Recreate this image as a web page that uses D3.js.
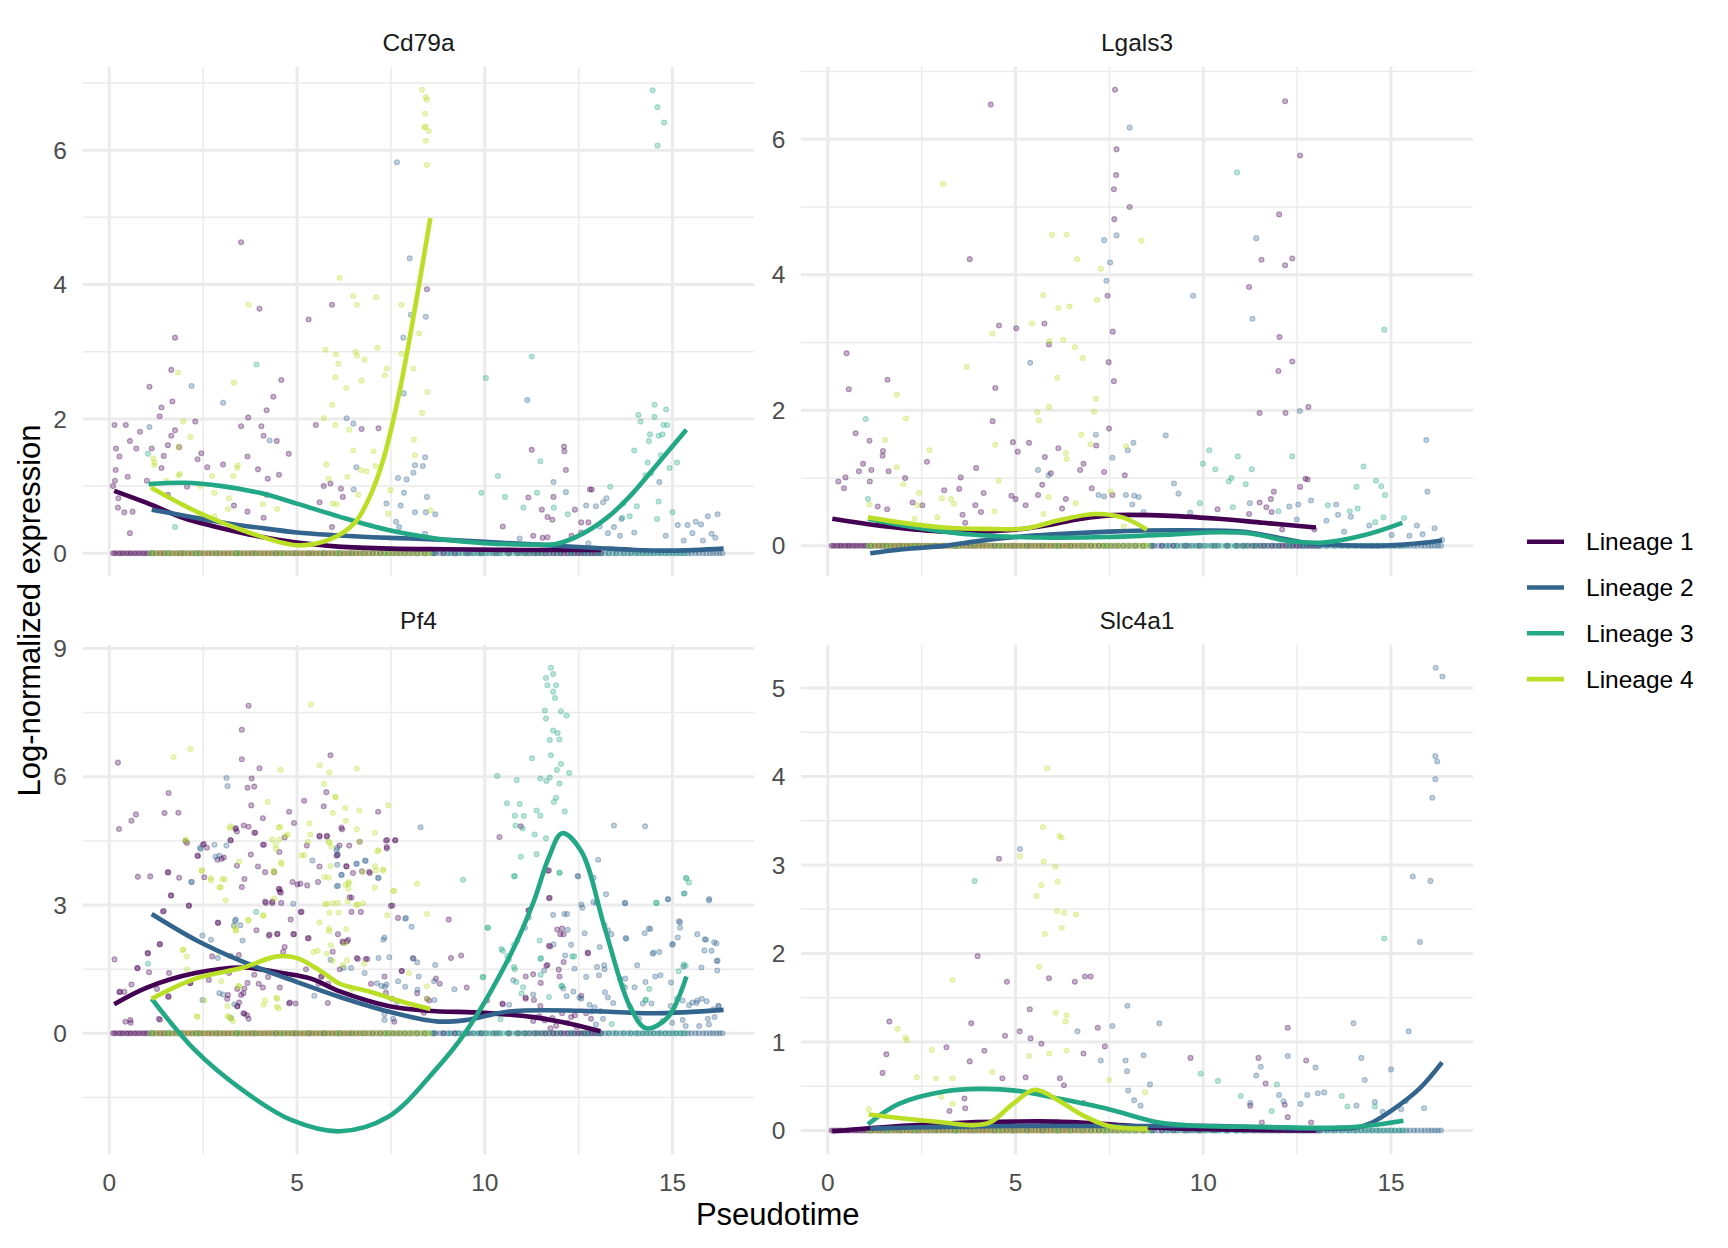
<!DOCTYPE html>
<html lang="en">
<head>
<meta charset="UTF-8">
<title>Expression along pseudotime</title>
<script src="https://cdn.jsdelivr.net/npm/d3@7"></script>
<style>
  body { margin: 0; background: #fff; }
  text { font-family: "Liberation Sans", Arial, sans-serif; }
</style>
</head>
<body>
<div id="chart"></div>
<script>
// ---- data ----
const genes = ["Cd79a", "Lgals3", "Pf4", "Slc4a1"];
const lineages = ["Lineage 1", "Lineage 2", "Lineage 3", "Lineage 4"];
const xTicks = [0, 5, 10, 15];
const cd79aTicks = [0, 2, 4, 6];
const lgals3Ticks = [0, 2, 4, 6];
const pf4Ticks = [0, 3, 6, 9];
const slc4a1Ticks = [0, 1, 2, 3, 4, 5];

// cells with zero counts, pseudotime per lineage (the dense band at y = 0)
const zeroL1 = [0.1,0.16,0.24,0.31,0.37,0.45,0.52,0.58,0.66,0.73,0.8,0.88,0.95,1.02,1.1,1.17,1.25,1.33,1.4,1.47,1.56,1.63,1.71,1.79,1.86,1.94,2.02,2.1,2.18,2.25,2.33,2.41,2.48,2.57,2.65,2.72,2.8,2.88,2.96,3.04,3.11,3.19,3.27,3.35,3.42,3.5,3.58,3.66,3.74,3.81,3.89,3.97,4.05,4.13,4.2,4.28,4.36,4.44,4.52,4.59,4.67,4.75,4.83,4.91,4.98,5.06,5.14,5.22,5.3,5.37,5.45,5.53,5.61,5.69,5.76,5.84,5.92,6.0,6.08,6.16,6.24,6.32,6.4,6.48,6.57,6.65,6.74,6.83,6.92,7.02,7.12,7.22,7.33,7.45,7.58,7.72,7.87,8.03,8.2,8.4,8.65,8.9,9.2,9.55,9.9,10.3,10.65,10.9,11.05,11.18,11.3,11.42,11.52,11.62,11.72,11.82,11.92,12.02,12.11,12.2,12.3,12.39,12.48,12.57,12.66,12.75,12.84,12.93,13.02,13.1];
const zeroL2 = [1.15,1.52,1.93,2.38,2.87,3.41,3.88,4.43,4.91,5.32,5.71,6.12,6.46,6.77,7.01,7.22,7.38,7.53,7.66,7.77,7.89,7.99,8.11,8.2,8.31,8.41,8.5,8.61,8.7,8.81,8.9,9.01,9.1,9.21,9.3,9.41,9.5,9.61,9.7,9.81,9.92,10.05,10.21,10.4,10.62,10.86,11.1,11.36,11.6,11.84,12.04,12.22,12.37,12.52,12.64,12.77,12.88,12.99,13.1,13.21,13.3,13.41,13.5,13.61,13.7,13.81,13.9,14.01,14.1,14.21,14.3,14.41,14.5,14.61,14.7,14.81,14.9,15.01,15.1,15.21,15.3,15.41,15.5,15.61,15.7,15.81,15.9,16.0,16.08,16.17,16.25,16.33];
const zeroL3 = [1.1,1.6,2.3,3.4,4.6,6.1,7.4,8.6,9.05,9.3,9.5,9.7,9.85,10.0,10.12,10.24,10.36,10.48,10.6,10.72,10.84,10.96,11.08,11.2,11.35,11.5,11.7,11.95,12.3,12.7,13.05,13.3,13.5,13.7,13.88,14.05,14.2,14.35,14.5,14.65,14.8,14.95,15.1,15.22,15.34];
const zeroL4 = [1.1,1.2,1.3,1.41,1.52,1.62,1.73,1.83,1.94,2.05,2.15,2.26,2.37,2.47,2.58,2.69,2.79,2.9,3.0,3.11,3.22,3.32,3.43,3.54,3.64,3.75,3.86,3.96,4.07,4.18,4.28,4.39,4.5,4.6,4.71,4.82,4.92,5.03,5.14,5.24,5.35,5.46,5.56,5.67,5.78,5.88,5.99,6.1,6.2,6.31,6.42,6.52,6.63,6.74,6.84,6.95,7.06,7.16,7.27,7.38,7.48,7.59,7.7,7.8,7.91,8.02,8.12,8.23,8.34,8.44,8.52];

// non-zero cells [pseudotime, expression]
const cd79aL1 = [[3.51,4.63],[4.0,3.64],[5.93,3.70],[5.31,3.48],[1.75,3.21],[1.65,2.73],[4.58,2.58],[1.68,2.26],[4.37,2.33],[4.19,2.13],[3.7,2.02],[1.34,2.04],[1.07,2.48],[2.29,1.96],[3.51,1.89],[4.05,1.89],[5.5,1.91],[7.17,1.86],[6.72,1.85],[0.14,1.91],[0.44,1.91],[0.82,1.81],[0.55,1.67],[0.18,1.56],[0.27,1.44],[0.17,1.24],[0.15,1.08],[0.1,1.0],[0.49,1.14],[0.72,1.56],[1.13,1.56],[1.45,1.45],[1.56,1.61],[1.65,1.75],[1.86,1.58],[1.75,1.83],[1.39,2.17],[2.35,1.40],[2.45,1.49],[4.11,1.75],[4.46,1.67],[4.78,1.48],[4.52,1.17],[4.22,1.11],[3.96,1.25],[3.68,1.44],[3.03,1.32],[2.61,1.28],[2.07,0.99],[1.56,0.87],[1.39,1.27],[1.0,1.08],[0.24,0.82],[0.23,0.68],[0.4,0.61],[0.62,0.62],[0.55,0.30],[3.32,0.71],[3.68,0.62],[4.11,0.53],[4.19,0.87],[5.71,1.0],[5.89,1.04],[6.17,0.96],[6.22,0.84],[5.6,0.76],[5.93,0.39],[8.46,3.93],[11.25,1.54],[12.11,1.59],[12.12,1.52],[12.16,1.24],[11.16,0.83],[11.83,0.84],[11.52,0.65],[11.67,0.54],[11.8,0.5],[10.48,0.40],[12.4,0.65],[12.8,0.95],[12.85,0.95],[12.57,0.46],[12.31,0.26],[11.29,0.26],[11.54,0.23],[11.67,0.24],[12.57,0.31],[12.76,0.46]];
const cd79aL2 = [[7.66,5.82],[8.0,4.39],[8.03,3.55],[8.43,3.52],[7.83,3.21],[2.19,2.49],[3.03,2.24],[4.27,1.68],[6.32,2.01],[6.5,1.93],[6.58,1.28],[6.51,0.95],[7.84,2.38],[8.1,1.2],[8.35,1.3],[8.14,1.31],[8.41,1.43],[7.69,1.12],[7.92,1.1],[7.85,0.9],[7.38,0.74],[7.76,0.71],[8.14,0.61],[8.46,0.84],[8.43,0.61],[8.68,0.58],[7.64,0.47],[7.72,0.39],[8.41,0.29],[1.07,1.88],[11.13,2.28],[11.83,1.06],[12.16,0.91],[12.7,0.71],[12.96,0.70],[13.15,0.76],[13.24,0.82],[13.64,0.51],[13.06,0.4],[13.6,0.26],[13.98,0.31],[14.65,1.06],[14.82,0.26],[15.14,0.42],[15.4,0.42],[15.62,0.47],[15.76,0.43],[15.94,0.55],[16.2,0.58],[16.04,0.29],[16.14,0.23],[15.81,0.19],[15.53,0.3],[15.3,0.19],[10.93,0.22],[12.76,0.15],[13.28,0.3],[13.44,0.39]];
const cd79aL3 = [[14.47,6.89],[14.6,6.64],[14.78,6.41],[14.6,6.07],[3.92,2.81],[1.03,1.48],[1.75,0.39],[11.25,2.93],[10.03,2.61],[10.35,1.15],[9.91,0.9],[10.54,0.84],[11.03,0.68],[11.39,0.9],[11.48,1.37],[11.84,0.68],[12.21,0.58],[13.34,0.99],[13.69,0.74],[13.86,0.55],[13.98,1.53],[14.09,2.06],[14.15,1.96],[14.52,2.21],[14.52,2.03],[14.83,2.14],[14.4,1.77],[14.37,1.67],[14.63,1.75],[14.73,1.77],[14.76,1.91],[14.86,1.91],[14.69,1.46],[14.34,1.35],[14.43,1.19],[14.28,1.16],[14.92,1.27],[15.12,1.35],[15.0,0.61],[14.59,0.51],[14.63,0.77],[14.05,0.7],[13.66,0.53]];
const cd79aL4 = [[8.33,6.9],[8.43,6.79],[8.46,6.75],[8.41,6.54],[8.43,6.35],[8.51,6.28],[8.39,6.34],[8.43,6.14],[8.46,5.78],[6.13,4.10],[6.5,3.83],[6.59,3.70],[7.11,3.81],[3.71,3.70],[7.78,3.70],[5.76,3.03],[6.04,2.96],[6.56,3.0],[6.6,2.94],[6.1,2.82],[6.8,2.88],[7.14,3.06],[7.39,2.75],[7.34,2.65],[7.78,2.97],[8.1,2.75],[6.02,2.62],[6.31,2.46],[6.72,2.57],[1.83,2.69],[3.32,2.54],[5.94,2.21],[5.71,2.01],[6.02,1.91],[6.39,1.84],[1.97,1.96],[2.16,1.73],[1.84,1.58],[8.33,2.09],[8.47,2.40],[8.25,3.27],[8.11,1.69],[8.14,1.46],[7.04,1.52],[7.09,1.3],[6.85,1.22],[6.7,1.24],[6.34,1.14],[6.5,1.53],[5.78,1.32],[5.84,1.11],[3.42,1.31],[3.4,1.27],[3.3,1.15],[2.74,1.15],[1.88,1.18],[1.85,1.16],[1.2,1.31],[1.17,1.41],[1.2,1.35],[1.52,1.08],[2.42,1.0],[2.8,0.9],[3.19,0.82],[3.16,0.66],[2.8,0.55],[2.54,0.5],[2.38,0.54],[4.09,0.73],[4.47,0.66],[6.63,0.87],[5.95,0.74],[6.05,0.73],[7.43,0.59],[7.49,0.94],[8.55,0.64]];

const lgals3L1 = [[4.34,6.51],[7.65,6.73],[12.18,6.56],[7.69,5.85],[12.58,5.76],[7.68,5.47],[7.62,5.26],[8.04,5.0],[7.63,4.82],[12.02,4.89],[3.78,4.23],[11.55,4.22],[12.37,4.24],[12.18,4.14],[7.45,3.69],[11.22,3.82],[5.02,3.21],[4.56,3.25],[5.77,3.28],[7.59,3.16],[5.89,2.97],[12.03,3.08],[0.5,2.84],[12.37,2.72],[7.48,2.71],[12.0,2.58],[1.59,2.45],[0.56,2.31],[4.46,2.33],[7.62,2.43],[11.5,1.96],[12.19,1.96],[12.8,2.05],[4.39,1.84],[7.49,1.73],[0.74,1.66],[1.11,1.55],[4.93,1.53],[5.36,1.52],[2.64,1.24],[5.06,1.39],[6.14,1.44],[5.78,1.31],[1.47,1.4],[1.46,1.33],[0.94,1.21],[1.16,1.12],[0.83,1.1],[0.28,0.95],[0.47,1.01],[0.43,0.85],[1.12,0.95],[1.62,1.1],[2.06,1.0],[3.95,1.15],[3.54,1.01],[3.5,0.84],[3.1,0.82],[4.15,0.78],[4.89,0.74],[5.0,0.69],[5.27,0.6],[5.6,0.75],[5.71,0.9],[5.94,1.07],[6.34,0.69],[6.24,0.55],[6.72,1.12],[6.81,1.21],[7.03,0.85],[7.15,1.48],[7.36,1.09],[7.58,0.75],[7.91,1.04],[2.26,0.64],[2.52,0.6],[1.33,0.58],[1.58,0.54],[3.59,0.46],[3.66,0.34],[3.93,0.6],[4.08,0.5],[10.38,0.54],[11.22,0.47],[11.5,0.64],[11.68,0.57],[11.82,0.5],[11.8,0.69],[11.88,0.8],[12.58,0.87],[12.72,0.99],[12.78,0.98],[12.96,0.24],[12.1,0.24]];
const lgals3L2 = [[8.04,6.17],[7.36,4.51],[7.69,4.58],[7.52,4.18],[7.42,3.91],[11.41,4.54],[9.73,3.69],[11.31,3.35],[5.39,2.7],[12.57,1.99],[9.0,1.63],[7.14,1.64],[7.58,1.3],[8.14,1.52],[7.99,1.41],[5.6,1.12],[5.88,1.04],[15.94,1.56],[15.97,0.8],[9.22,0.92],[9.34,0.77],[7.21,0.75],[7.36,0.73],[7.94,0.75],[8.16,0.74],[8.28,0.72],[8.11,0.61],[8.41,0.5],[9.65,0.49],[11.24,0.63],[12.29,0.58],[12.53,0.61],[12.87,0.67],[13.54,0.61],[13.59,0.46],[13.93,0.43],[12.49,0.39],[13.28,0.37],[13.75,0.21],[14.42,0.3],[15.69,0.3],[16.16,0.26],[15.02,0.16],[15.49,0.15],[15.84,0.17],[16.36,0.09]];
const lgals3L3 = [[1.01,1.87],[10.9,5.51],[14.82,3.19],[10.16,1.41],[9.99,1.21],[10.32,1.13],[10.92,1.32],[11.29,1.13],[12.37,1.32],[14.27,1.17],[10.75,1.0],[10.68,0.95],[11.13,0.91],[14.08,0.87],[14.6,0.96],[14.74,0.88],[14.84,0.75],[13.32,0.6],[14.11,0.55],[9.91,0.63],[10.79,0.57],[12.0,0.51],[13.9,0.51],[14.58,0.35],[14.8,0.42],[15.35,0.41],[1.07,0.69]];
const lgals3L4 = [[3.07,5.34],[5.97,4.59],[6.36,4.59],[8.35,4.5],[6.64,4.23],[7.27,4.09],[5.74,3.7],[6.14,3.51],[6.44,3.53],[7.17,3.63],[4.38,3.13],[5.44,3.28],[6.27,3.04],[5.9,3.02],[6.58,2.93],[6.79,2.77],[3.7,2.64],[6.11,2.48],[1.84,2.23],[7.14,2.17],[5.89,2.05],[7.09,1.98],[5.58,1.97],[2.08,1.88],[5.62,1.85],[6.75,1.64],[7.0,1.5],[1.52,1.56],[4.46,1.49],[2.71,1.41],[6.34,1.37],[6.36,1.28],[7.94,1.47],[1.84,1.16],[4.55,0.96],[2.01,0.91],[2.43,0.78],[1.11,0.61],[2.4,0.6],[3.28,0.69],[3.36,0.62],[3.04,0.7],[5.88,0.72],[6.6,0.63],[7.54,0.8],[2.92,0.42],[2.31,0.4],[4.44,0.51],[5.74,0.47],[7.88,0.29]];

const pf4L1 = [[0.23,6.33],[0.26,4.78],[3.71,7.66],[3.53,7.1],[3.53,6.41],[4.0,6.2],[3.79,5.96],[3.68,5.74],[3.86,5.77],[1.58,5.62],[1.47,5.15],[1.84,5.16],[0.71,5.12],[0.59,4.97],[3.78,5.33],[4.09,5.03],[3.58,4.86],[3.37,4.8],[3.86,4.69],[3.23,4.52],[4.09,4.41],[2.99,4.08],[2.35,4.16],[2.03,4.49],[2.52,4.43],[4.79,5.18],[4.92,4.92],[5.19,5.44],[5.78,5.64],[5.89,6.5],[5.71,5.31],[5.6,4.62],[5.8,4.62],[6.18,4.81],[6.05,4.15],[6.31,3.91],[6.67,4.48],[7.16,5.18],[7.4,4.52],[7.62,4.52],[7.39,4.36],[7.54,2.99],[6.62,1.74],[6.83,1.74],[6.4,3.18],[6.7,2.84],[6.92,3.78],[6.36,2.19],[6.21,2.15],[5.31,2.23],[4.92,2.32],[4.47,2.32],[4.25,2.28],[4.15,3.08],[4.34,3.08],[4.54,3.31],[4.51,3.38],[4.15,3.77],[4.88,3.54],[5.09,3.5],[5.27,3.46],[4.67,2.02],[4.83,2.66],[5.12,2.84],[2.9,2.58],[2.74,1.8],[2.12,2.99],[1.65,3.22],[1.56,3.77],[1.86,3.64],[0.76,3.66],[1.09,3.67],[1.45,2.86],[1.35,2.09],[1.03,1.87],[0.75,1.52],[1.59,1.41],[0.14,1.73],[0.27,0.97],[0.57,0.25],[1.35,0.32],[1.58,0.85],[2.16,1.17],[3.19,1.41],[3.41,1.04],[3.51,0.9],[3.46,0.72],[3.41,0.64],[3.57,0.47],[3.71,0.34],[4.09,1.07],[4.54,1.07],[4.81,0.72],[5.24,1.5],[5.57,1.16],[5.66,1.34],[6.14,1.5],[7.33,1.33],[7.53,0.81],[7.79,1.46],[8.2,0.94],[8.46,0.81],[8.7,1.28],[8.8,1.16],[9.04,2.66],[9.1,1.76],[9.37,1.82],[9.52,1.07],[10.06,0.77],[10.39,4.59],[10.48,0.68],[10.96,4.84],[11.16,2.88],[11.71,3.81],[11.71,3.16],[12.06,2.45],[12.1,2.32],[11.74,2.03],[12.1,1.67],[11.67,1.6],[11.09,1.33],[11.09,0.81],[11.31,0.78],[11.48,0.64],[11.8,0.36],[12.06,0.47],[12.4,0.42],[12.74,1.89],[12.7,0.47],[12.83,0.34],[11.29,0.29],
  [6.2,4.77],[3.36,4.78],[3.4,4.72],[3.71,4.83],[3.89,4.69],[4.67,4.58],[7.37,4.51],[7.61,4.51],[2.07,4.45],[2.49,4.41],[2.6,4.34],[3.23,4.51],[4.12,4.41],[4.53,4.24],[5.26,4.39],[5.6,4.6],[5.79,4.6],[6.13,4.39],[6.39,4.39],[6.08,4.17],[7.39,4.32],[3.77,4.18],[3.05,4.11],[2.88,4.06],[2.36,4.14],[2.53,3.65],[1.57,3.76],[1.64,3.23],[2.12,2.98],[1.43,2.85],[3.4,3.92],[3.96,3.9],[3.6,3.61],[3.53,3.42],[4.39,3.77],[4.54,3.37],[4.57,3.29],[4.17,3.05],[4.34,3.05],[4.58,3.05],[5.01,3.48],[5.56,3.54],[5.6,3.9],[6.32,3.9],[6.49,3.75],[6.73,3.79],[6.94,3.75],[6.45,3.17],[6.45,2.84],[5.1,2.84],[7.5,2.98],[7.69,2.7],[2.89,2.59],[3.92,2.41],[4.27,2.31],[4.48,2.33],[4.9,2.32],[5.29,2.22],[6.09,2.32],[6.33,2.15],[6.23,2.12],[1.34,2.08],[1.02,1.88],[1.06,1.43],[0.75,1.53],[3.23,1.81],[3.45,1.83],[4.63,1.91],[5.95,1.91],[6.59,1.76],[6.87,1.74],[8.1,1.75],[2.65,1.25],[2.15,1.18],[1.57,0.87],[1.27,1.04],[0.59,1.14],[0.28,0.97],[0.4,0.97],[0.43,0.27],[0.56,0.31],[1.32,0.34],[3.14,0.81],[3.16,0.9],[3.57,0.94],[3.6,1.05],[3.68,1.18],[3.98,1.16],[3.41,0.63],[3.6,0.46],[3.67,0.42],[4.79,0.7],[4.96,0.7],[3.86,1.37],[4.23,1.32],[5.83,1.16],[5.64,1.32],[5.82,0.71],[6.97,1.16],[7.79,1.46],[8.52,0.77],[8.38,0.48],[7.59,0.27],[7.37,0.95],
  [11.67,3.8],[11.73,3.17],[11.18,2.87],[11.93,2.43],[12.01,2.32],[11.71,2.05],[12.75,1.87],[11.29,1.38],[11.64,1.58],[11.97,1.49],[11.99,1.33],[11.49,1.18],[11.09,0.84],[10.47,0.7],[12.57,0.88],[11.6,0.3],[11.9,0.18],[12.2,0.25],[12.45,0.15],[11.75,0.12],[12.3,0.38],[11.45,0.4]];
const pf4L2 = [[3.12,5.97],[3.15,5.78],[2.42,4.34],[2.8,4.41],[3.12,4.39],[2.93,4.15],[6.07,4.34],[6.08,4.19],[6.06,3.44],[6.18,3.7],[6.58,3.96],[6.83,4.03],[7.17,3.63],[4.9,3.03],[3.37,2.66],[3.55,2.17],[3.32,2.52],[2.71,2.19],[2.89,1.76],[2.48,0.78],[3.03,0.91],[3.33,0.68],[2.2,3.54],[5.41,4.04],[6.24,1.53],[5.89,1.72],[7.3,2.19],[7.88,2.68],[8.05,2.49],[8.08,1.76],[8.29,4.82],[8.24,1.33],[8.66,0.78],[7.34,1.09],[7.13,1.17],[7.66,0.74],[7.88,1.09],[7.33,0.31],[9.19,1.03],[11.29,0.91],[12.12,2.79],[12.47,3.68],[12.57,3.01],[12.89,3.07],[13.02,4.06],[13.19,2.53],[13.28,2.41],[13.06,2.02],[13.19,1.5],[13.44,4.86],[13.73,3.05],[13.75,2.23],[14.27,4.84],[14.37,2.45],[14.5,1.89],[14.54,1.33],[14.88,3.14],[15.01,2.09],[15.17,2.62],[15.2,2.47],[15.66,2.32],[15.89,2.19],[16.04,1.93],[16.17,2.1],[15.98,3.14],[16.18,1.69],[16.19,1.47],[15.66,0.77],[15.27,0.31],[13.86,0.64],[12.57,0.81],[12.85,0.51],[13.15,0.34],[13.6,1.28],[13.73,1.07],[14.11,0.34],[14.73,0.29],[14.95,0.64],[15.27,0.77],[15.53,0.72],[15.78,0.81],[15.94,0.34],[16.12,0.38],[16.23,0.64],[12.96,0.21],
  [2.43,4.31],[2.83,4.13],[6.05,4.28],[2.18,3.54],[6.07,3.94],[6.59,3.97],[6.81,4.04],[7.16,3.64],[6.19,3.71],[6.09,3.45],[7.9,2.7],[3.35,2.63],[3.49,2.53],[2.48,2.29],[7.33,2.24],[6.44,1.53],[7.17,1.76],[7.46,1.78],[8.2,1.66],[8.68,1.6],[2.93,0.94],[3.24,0.36],[5.46,0.88],[6.8,1.41],[7.25,1.11],[7.38,1.14],[7.69,1.22],[8.21,1.02],[8.65,1.22],[7.56,0.34],[7.33,0.45],
  [12.49,3.67],[12.9,3.64],[13.23,3.25],[13.74,3.04],[14.88,3.13],[15.32,3.27],[15.97,3.11],[12.6,2.94],[12.97,3.05],[11.82,2.77],[12.19,2.79],[11.17,2.71],[11.07,2.47],[12.21,2.42],[12.3,2.07],[11.83,2.08],[12.14,1.82],[12.66,2.34],[13.37,2.32],[13.77,2.21],[14.26,2.34],[14.41,2.44],[14.65,1.9],[14.47,1.86],[14.99,2.07],[15.14,2.24],[15.2,2.6],[15.86,2.2],[16.11,2.13],[16.2,1.7],[15.77,1.54],[15.85,1.94],[15.29,1.56],[14.06,1.59],[14.68,1.36],[14.96,1.19],[14.28,1.2],[13.99,1.08],[13.74,1.28],[13.2,0.96],[13.28,0.84],[13.42,0.71],[13.04,1.36],[13.18,1.59],[12.99,1.55],[12.7,1.32],[12.39,1.51],[12.36,0.98],[12.09,1.05],[12.18,0.87],[12.52,0.84],[12.79,0.67],[12.92,0.61],[13.08,0.52],[11.58,1.47],[10.76,1.24],[10.65,0.67],[14.21,0.7],[14.44,0.7],[15.12,0.81],[15.64,0.71],[15.91,0.75],[16.09,0.56],[16.22,0.64],[15.44,0.66],[14.99,0.25],[15.35,0.17],[15.71,0.17],[15.97,0.21]];
const pf4L3 = [[11.76,8.55],[11.82,8.4],[11.63,8.31],[11.9,8.14],[11.67,8.14],[11.82,7.99],[11.87,7.84],[11.6,7.55],[12.03,7.53],[12.18,7.43],[11.63,7.36],[11.82,7.08],[11.94,7.02],[11.99,6.87],[11.73,6.86],[11.76,6.5],[11.26,6.43],[12.03,6.3],[11.92,6.16],[12.25,6.09],[11.48,5.96],[11.73,5.98],[11.64,5.9],[11.99,5.84],[10.85,5.92],[10.33,6.02],[11.9,5.51],[11.84,5.41],[10.59,5.38],[10.93,5.36],[11.38,5.21],[11.48,5.09],[12.13,5.19],[10.8,5.09],[11.04,5.08],[10.82,4.86],[11.01,4.79],[11.33,4.65],[11.63,4.56],[11.38,4.19],[10.96,4.13],[10.8,3.68],[11.99,3.76],[10.09,2.47],[10.48,1.93],[10.64,1.72],[10.8,1.5],[10.84,1.2],[9.96,1.31],[11.48,1.74],[12.38,1.8],[12.06,1.11],[14.28,0.77],[15.36,3.64],[15.44,3.53],[15.3,3.27],[14.56,3.05],[15.3,1.61],[9.42,3.59],[1.03,1.63],[3.91,2.84],
  [10.78,3.67],[11.99,3.75],[10.07,2.47],[11.46,2.17],[10.87,2.18],[10.78,2.07],[10.44,1.97],[10.6,1.81],[10.78,1.55],[11.5,1.76],[12.33,1.8],[11.02,1.08],[10.98,0.93],[11.49,1.37],[12.04,1.1],[9.94,1.32],[10.42,0.33],[11.71,0.85],[13.67,1.12],[14.38,1.04],[14.29,0.79],[14.58,3.05],[15.37,3.62],[15.35,1.58],[15.16,1.45],[13.9,0.56],[13.38,0.22]];
const pf4L4 = [[5.37,7.69],[2.16,6.65],[1.71,6.46],[4.56,6.16],[5.6,6.27],[5.86,6.1],[6.59,6.19],[5.72,5.83],[6.02,5.53],[4.22,5.41],[7.43,5.33],[6.66,5.21],[5.95,5.15],[5.33,4.91],[4.55,4.83],[3.23,4.84],[2.03,4.54],[4.7,4.62],[4.52,4.53],[4.43,4.41],[5.86,4.47],[5.19,4.17],[7.17,4.28],[7.08,3.91],[7.3,3.83],[6.75,3.77],[5.89,3.91],[6.38,3.54],[6.29,3.47],[5.73,3.66],[4.58,4.0],[4.38,3.76],[2.47,3.81],[2.7,3.63],[3.01,3.61],[2.97,3.42],[3.1,3.11],[3.38,2.42],[3.7,2.66],[4.09,2.75],[5.8,3.03],[6.08,3.05],[6.62,3.01],[7.58,3.33],[8.46,2.79],[8.2,3.5],[5.85,2.45],[6.27,2.1],[5.55,1.93],[5.95,1.69],[6.79,1.63],[1.97,1.96],[2.06,1.8],[2.07,1.5],[2.35,0.38],[2.54,0.77],[3.19,0.38],[3.24,0.34],[3.29,0.29],[3.15,0.64],[3.44,1.11],[4.15,0.77],[4.47,0.81],[4.51,0.59],[8.46,0.81],[7.98,1.41],
  [6.03,5.52],[6.29,5.27],[6.3,4.97],[6.59,4.77],[3.21,4.8],[4.51,4.81],[4.75,4.65],[7.07,4.69],[2.05,4.49],[4.34,4.53],[4.44,4.31],[5.12,4.16],[5.29,4.48],[5.35,4.65],[5.84,4.48],[5.91,4.37],[6.66,4.48],[7.14,4.26],[3.46,4.02],[2.46,3.8],[2.71,3.58],[2.93,3.41],[3.07,3.6],[4.38,3.81],[4.58,3.96],[4.39,3.15],[5.84,3.64],[7.1,3.81],[7.29,3.81],[6.37,3.5],[6.37,3.39],[7.07,3.41],[7.57,3.33],[6.35,3.09],[6.58,3.01],[6.76,3.04],[5.96,3.04],[5.75,3.02],[6.11,2.82],[5.86,2.82],[5.6,2.59],[7.4,2.76],[4.11,2.76],[3.71,2.63],[3.33,2.49],[3.37,2.4],[5.86,2.39],[6.31,2.44],[5.9,2.06],[1.96,1.95],[2.92,1.9],[5.44,1.9],[5.79,1.86],[6.22,1.59],[6.33,1.71],[2.98,1.22],[2.33,0.4],[3.15,0.4],[3.46,1.1],[4.11,0.67],[4.46,0.62],[4.45,0.83],[6.46,1.02],[8.46,1.1]];

const slc4a1L1 = [[4.56,3.07],[3.99,1.97],[4.77,1.68],[5.89,1.72],[6.58,1.68],[6.85,1.74],[7.0,1.74],[1.64,1.23],[3.82,1.21],[5.38,1.37],[5.11,1.12],[4.72,1.07],[5.4,1.04],[5.69,0.98],[7.19,1.16],[7.38,0.95],[12.25,1.16],[3.16,0.94],[4.17,0.9],[1.56,0.86],[6.81,0.87],[9.66,0.82],[11.47,0.82],[12.74,0.79],[3.78,0.78],[1.46,0.65],[5.27,0.6],[6.18,0.59],[6.29,0.51],[4.65,0.59],[11.66,0.53],[3.64,0.36],[3.66,0.25],[3.24,0.22],[6.81,0.31],[12.25,0.15],[11.56,0.09],[12.17,0.29],[11.25,0.28],[12.87,0.09]];
const slc4a1L2 = [[16.19,5.23],[16.37,5.13],[16.18,4.23],[16.23,4.17],[16.18,3.97],[16.1,3.76],[15.58,2.87],[16.05,2.82],[15.77,2.13],[5.12,3.18],[7.98,1.41],[7.58,1.18],[8.83,1.21],[6.65,1.12],[14.0,1.21],[15.47,1.12],[12.25,0.84],[14.21,0.82],[8.41,0.85],[7.27,0.79],[7.93,0.79],[7.97,0.67],[12.99,0.71],[11.53,0.72],[11.41,0.62],[15.0,0.69],[14.3,0.57],[8.58,0.52],[12.02,0.4],[12.77,0.4],[13.05,0.42],[13.22,0.43],[11.25,0.31],[12.14,0.33],[12.59,0.3],[14.08,0.28],[14.57,0.32],[15.39,0.33],[15.88,0.25],[8.0,0.45],[8.16,0.34],[8.33,0.28],[14.78,0.21],[15.27,0.24]];
const slc4a1L3 = [[3.91,2.82],[14.82,2.17],[9.93,0.64],[10.39,0.56],[11.0,0.39],[11.96,0.52],[11.82,0.22],[13.69,0.39],[13.84,0.27],[14.57,0.27]];
const slc4a1L4 = [[5.84,4.09],[5.73,3.43],[6.17,3.33],[6.23,3.31],[5.75,3.04],[6.06,2.98],[5.12,3.1],[5.69,2.77],[6.12,2.81],[5.56,2.65],[6.11,2.48],[6.3,2.46],[6.61,2.44],[6.23,2.29],[5.78,2.22],[5.63,1.85],[3.32,1.7],[6.07,1.33],[6.36,1.3],[6.33,1.23],[1.86,1.15],[2.07,1.05],[2.1,1.02],[2.77,0.91],[5.9,0.87],[6.36,0.9],[5.36,0.84],[2.37,0.6],[2.88,0.59],[3.32,0.59],[4.38,0.66],[7.49,0.57],[8.45,0.43],[3.32,0.3],[3.02,0.38],[1.09,0.24]];

// fitted smoothers [pseudotime, expression]
const cd79aFit1 = [[0.13,0.93],[1,0.75],[2,0.52],[2.8,0.4],[3.57,0.3],[4.3,0.22],[5,0.16],[6.1,0.1],[7.5,0.07],[9,0.06],[11,0.05],[13.1,0.05]];
const cd79aFit2 = [[1.13,0.65],[2,0.56],[3,0.46],[4,0.38],[5,0.31],[6,0.27],[7,0.24],[8,0.22],[9,0.2],[10,0.17],[11,0.14],[12,0.11],[13,0.08],[14,0.05],[15,0.04],[16.36,0.07]];
const cd79aFit3 = [[1.05,1.03],[2,1.05],[3,1.0],[4,0.9],[5,0.74],[6.1,0.55],[7.4,0.35],[8.7,0.22],[10,0.15],[11.3,0.13],[11.9,0.14],[12.6,0.29],[13.3,0.55],[13.9,0.87],[14.6,1.33],[15.37,1.84]];
const cd79aFit4 = [[1.11,0.98],[2.29,0.63],[3.57,0.34],[5.0,0.12],[5.89,0.21],[6.53,0.45],[6.92,0.82],[7.3,1.4],[7.69,2.3],[8.07,3.42],[8.55,4.99]];
const lgals3Fit1 = [[0.12,0.40],[1.5,0.29],[3.1,0.21],[5.0,0.24],[6.0,0.32],[6.75,0.40],[7.5,0.45],[8.8,0.45],[10.4,0.40],[11.6,0.34],[13.0,0.27]];
const lgals3Fit2 = [[1.13,-0.11],[2,-0.05],[3.1,0.0],[4,0.07],[5,0.13],[6,0.17],[7.5,0.21],[9.2,0.23],[11.0,0.21],[12.0,0.12],[12.8,0.04],[13.7,0.01],[14.7,0.0],[15.6,0.03],[16.36,0.08]];
const lgals3Fit3 = [[1.07,0.40],[2,0.3],[3.1,0.21],[4,0.16],[5.0,0.13],[6,0.12],[7.5,0.13],[9.2,0.17],[10.4,0.20],[11.3,0.18],[12.2,0.08],[13.2,0.05],[14.3,0.16],[15.3,0.34]];
const lgals3Fit4 = [[1.07,0.42],[2,0.34],[3.1,0.27],[4.2,0.25],[5.3,0.26],[6.1,0.37],[7.1,0.47],[7.85,0.42],[8.5,0.24]];
const pf4Fit1 = [[0.13,0.68],[1.0,1.07],[2.29,1.41],[3.57,1.54],[4.6,1.41],[5.37,1.28],[6.14,0.98],[7.43,0.64],[8.46,0.53],[10.0,0.48],[11.3,0.38],[12.3,0.22],[13.08,0.05]];
const pf4Fit2 = [[1.13,2.79],[2.29,2.19],[3.57,1.67],[5.0,1.2],[6.14,0.85],[7.43,0.51],[8.71,0.28],[9.49,0.31],[10.64,0.51],[12.57,0.53],[14.5,0.47],[16.36,0.55]];
const pf4Fit3 = [[1.13,0.81],[2.29,-0.40],[3.57,-1.34],[4.86,-2.03],[6.14,-2.29],[7.43,-1.95],[8.71,-0.83],[9.49,0.03],[10.64,1.76],[11.29,3.05],[11.7,4.1],[12.06,4.68],[12.57,4.26],[13.2,2.45],[13.86,0.64],[14.3,0.12],[14.88,0.38],[15.37,1.33]];
const pf4Fit4 = [[1.13,0.81],[2.29,1.28],[3.57,1.54],[4.47,1.80],[5.0,1.76],[5.63,1.46],[6.14,1.16],[6.92,0.98],[7.69,0.77],[8.55,0.57]];
const slc4a1Fit1 = [[0.12,-0.01],[1.9,0.05],[3.7,0.09],[4.9,0.10],[6.1,0.10],[7.5,0.07],[8.8,0.03],[10.4,0.01],[13.0,0.0]];
const slc4a1Fit2 = [[1.13,0.02],[3,0.04],[5,0.05],[7,0.05],[9,0.05],[10.4,0.05],[12.8,0.02],[14.05,0.03],[14.5,0.09],[15.0,0.22],[15.75,0.47],[16.36,0.77]];
const slc4a1Fit3 = [[1.07,0.07],[1.89,0.30],[3.1,0.44],[4.08,0.47],[5.0,0.45],[6.14,0.36],[7.48,0.24],[8.82,0.09],[9.98,0.05],[11.6,0.04],[13.4,0.03],[14.3,0.05],[15.33,0.11]];
const slc4a1Fit4 = [[1.09,0.18],[1.89,0.14],[3.1,0.09],[3.83,0.06],[4.32,0.09],[4.93,0.30],[5.51,0.46],[6.14,0.34],[6.75,0.18],[7.48,0.05],[8.52,0.02]];

// ---- build panel table ----
const colors = ["#440154", "#32648E", "#22A884", "#BBDF27"];
const zeros = [zeroL1, zeroL2, zeroL3, zeroL4];
const panels = [
  { gene: genes[0], pts: [cd79aL1, cd79aL2, cd79aL3, cd79aL4], fits: [cd79aFit1, cd79aFit2, cd79aFit3, cd79aFit4], ticks: cd79aTicks },
  { gene: genes[1], pts: [lgals3L1, lgals3L2, lgals3L3, lgals3L4], fits: [lgals3Fit1, lgals3Fit2, lgals3Fit3, lgals3Fit4], ticks: lgals3Ticks },
  { gene: genes[2], pts: [pf4L1, pf4L2, pf4L3, pf4L4], fits: [pf4Fit1, pf4Fit2, pf4Fit3, pf4Fit4], ticks: pf4Ticks },
  { gene: genes[3], pts: [slc4a1L1, slc4a1L2, slc4a1L3, slc4a1L4], fits: [slc4a1Fit1, slc4a1Fit2, slc4a1Fit3, slc4a1Fit4], ticks: slc4a1Ticks }
];

const width = 1728, height = 1248;
const panelW = 672, panelH = 510;
const colLeft = [82.5, 801], rowTop = [66.5, 644.5];
const gridCol = "#EBEBEB";

const svg = d3.select("#chart").append("svg")
  .attr("width", width).attr("height", height)
  .style("display", "block");

// ggplot style 5% expansion
function expand(ext) {
  const pad = (ext[1] - ext[0]) * 0.05;
  return [ext[0] - pad, ext[1] + pad];
}
const allX = [];
panels.forEach(p => {
  p.pts.forEach(a => a.forEach(d => allX.push(d[0])));
  p.fits.forEach(a => a.forEach(d => allX.push(d[0])));
});
zeros.forEach(z => z.forEach(x => allX.push(x)));
const xDomain = expand(d3.extent(allX));

function minorsOf(ticks, domain) {
  const step = ticks[1] - ticks[0];
  const out = [];
  for (let v = ticks[0] - step / 2; v <= ticks[ticks.length - 1] + step / 2 + 1e-9; v += step) {
    if (v >= domain[0] && v <= domain[1]) out.push(v);
  }
  return out;
}

const line = d3.line().curve(d3.curveCatmullRom.alpha(0.5));

panels.forEach((p, i) => {
  const left = colLeft[i % 2], top = rowTop[Math.floor(i / 2)];
  const x = d3.scaleLinear().domain(xDomain).range([left, left + panelW]);
  const ys = [0];
  p.pts.forEach(a => a.forEach(d => ys.push(d[1])));
  p.fits.forEach(a => a.forEach(d => ys.push(d[1])));
  const yDomain = expand(d3.extent(ys));
  const y = d3.scaleLinear().domain(yDomain).range([top + panelH, top]);

  const g = svg.append("g");
  const clipId = "clip" + i;
  svg.append("clipPath").attr("id", clipId)
    .append("rect").attr("x", left).attr("y", top).attr("width", panelW).attr("height", panelH);

  // grid
  const grid = g.append("g").attr("clip-path", `url(#${clipId})`);
  minorsOf(p.ticks, yDomain).forEach(v => {
    grid.append("line").attr("x1", left).attr("x2", left + panelW)
      .attr("y1", y(v)).attr("y2", y(v)).attr("stroke", gridCol).attr("stroke-width", 1.5);
  });
  minorsOf(xTicks, xDomain).forEach(v => {
    grid.append("line").attr("y1", top).attr("y2", top + panelH)
      .attr("x1", x(v)).attr("x2", x(v)).attr("stroke", gridCol).attr("stroke-width", 1.5);
  });
  p.ticks.forEach(v => {
    grid.append("line").attr("x1", left).attr("x2", left + panelW)
      .attr("y1", y(v)).attr("y2", y(v)).attr("stroke", gridCol).attr("stroke-width", 3);
  });
  xTicks.forEach(v => {
    grid.append("line").attr("y1", top).attr("y2", top + panelH)
      .attr("x1", x(v)).attr("x2", x(v)).attr("stroke", gridCol).attr("stroke-width", 3);
  });

  // cells
  const dots = g.append("g").attr("clip-path", `url(#${clipId})`);
  p.pts.forEach((arr, k) => {
    const cells = zeros[k].map(t => [t, 0]).concat(arr);
    dots.selectAll(null).data(cells).join("circle")
      .attr("cx", d => x(d[0])).attr("cy", d => y(d[1])).attr("r", 2.5)
      .attr("fill", colors[k]).attr("fill-opacity", 0.3)
      .attr("stroke", colors[k]).attr("stroke-opacity", 0.35).attr("stroke-width", 1.1);
  });

  // smoothers
  const fits = g.append("g").attr("clip-path", `url(#${clipId})`);
  p.fits.forEach((arr, k) => {
    fits.append("path")
      .attr("d", line(arr.map(d => [x(d[0]), y(d[1])])))
      .attr("fill", "none").attr("stroke", colors[k]).attr("stroke-width", 4.6)
      .attr("stroke-linejoin", "round");
  });

  // y labels
  p.ticks.forEach(v => {
    g.append("text").attr("x", left - 15.5).attr("y", y(v)).attr("dy", "0.35em")
      .attr("text-anchor", "end").attr("font-size", 24.5).attr("fill", "#4D4D4D").text(v);
  });
  // x labels on bottom row only
  if (i >= 2) {
    xTicks.forEach(v => {
      g.append("text").attr("x", x(v)).attr("y", top + panelH + 36.5)
        .attr("text-anchor", "middle").attr("font-size", 24.5).attr("fill", "#4D4D4D").text(v);
    });
  }
  // strip
  g.append("text").attr("x", left + panelW / 2).attr("y", top - 16)
    .attr("text-anchor", "middle").attr("font-size", 24.5).attr("fill", "#1A1A1A").text(p.gene);
});

// axis titles
svg.append("text").attr("x", (colLeft[0] + colLeft[1] + panelW) / 2).attr("y", 1225)
  .attr("text-anchor", "middle").attr("font-size", 31).attr("fill", "#000").text("Pseudotime");
svg.append("text")
  .attr("transform", `translate(39.5, ${(rowTop[0] + rowTop[1] + panelH) / 2}) rotate(-90)`)
  .attr("text-anchor", "middle").attr("font-size", 31).attr("fill", "#000").text("Log-normalized expression");

// legend
const legend = svg.append("g");
lineages.forEach((name, k) => {
  const ly = 541.7 + k * 45.8;
  legend.append("line").attr("x1", 1527).attr("x2", 1564).attr("y1", ly).attr("y2", ly)
    .attr("stroke", colors[k]).attr("stroke-width", 4.6);
  legend.append("text").attr("x", 1586).attr("y", ly).attr("dy", "0.35em")
    .attr("font-size", 24.5).attr("fill", "#000").text(name);
});
</script>
</body>
</html>
